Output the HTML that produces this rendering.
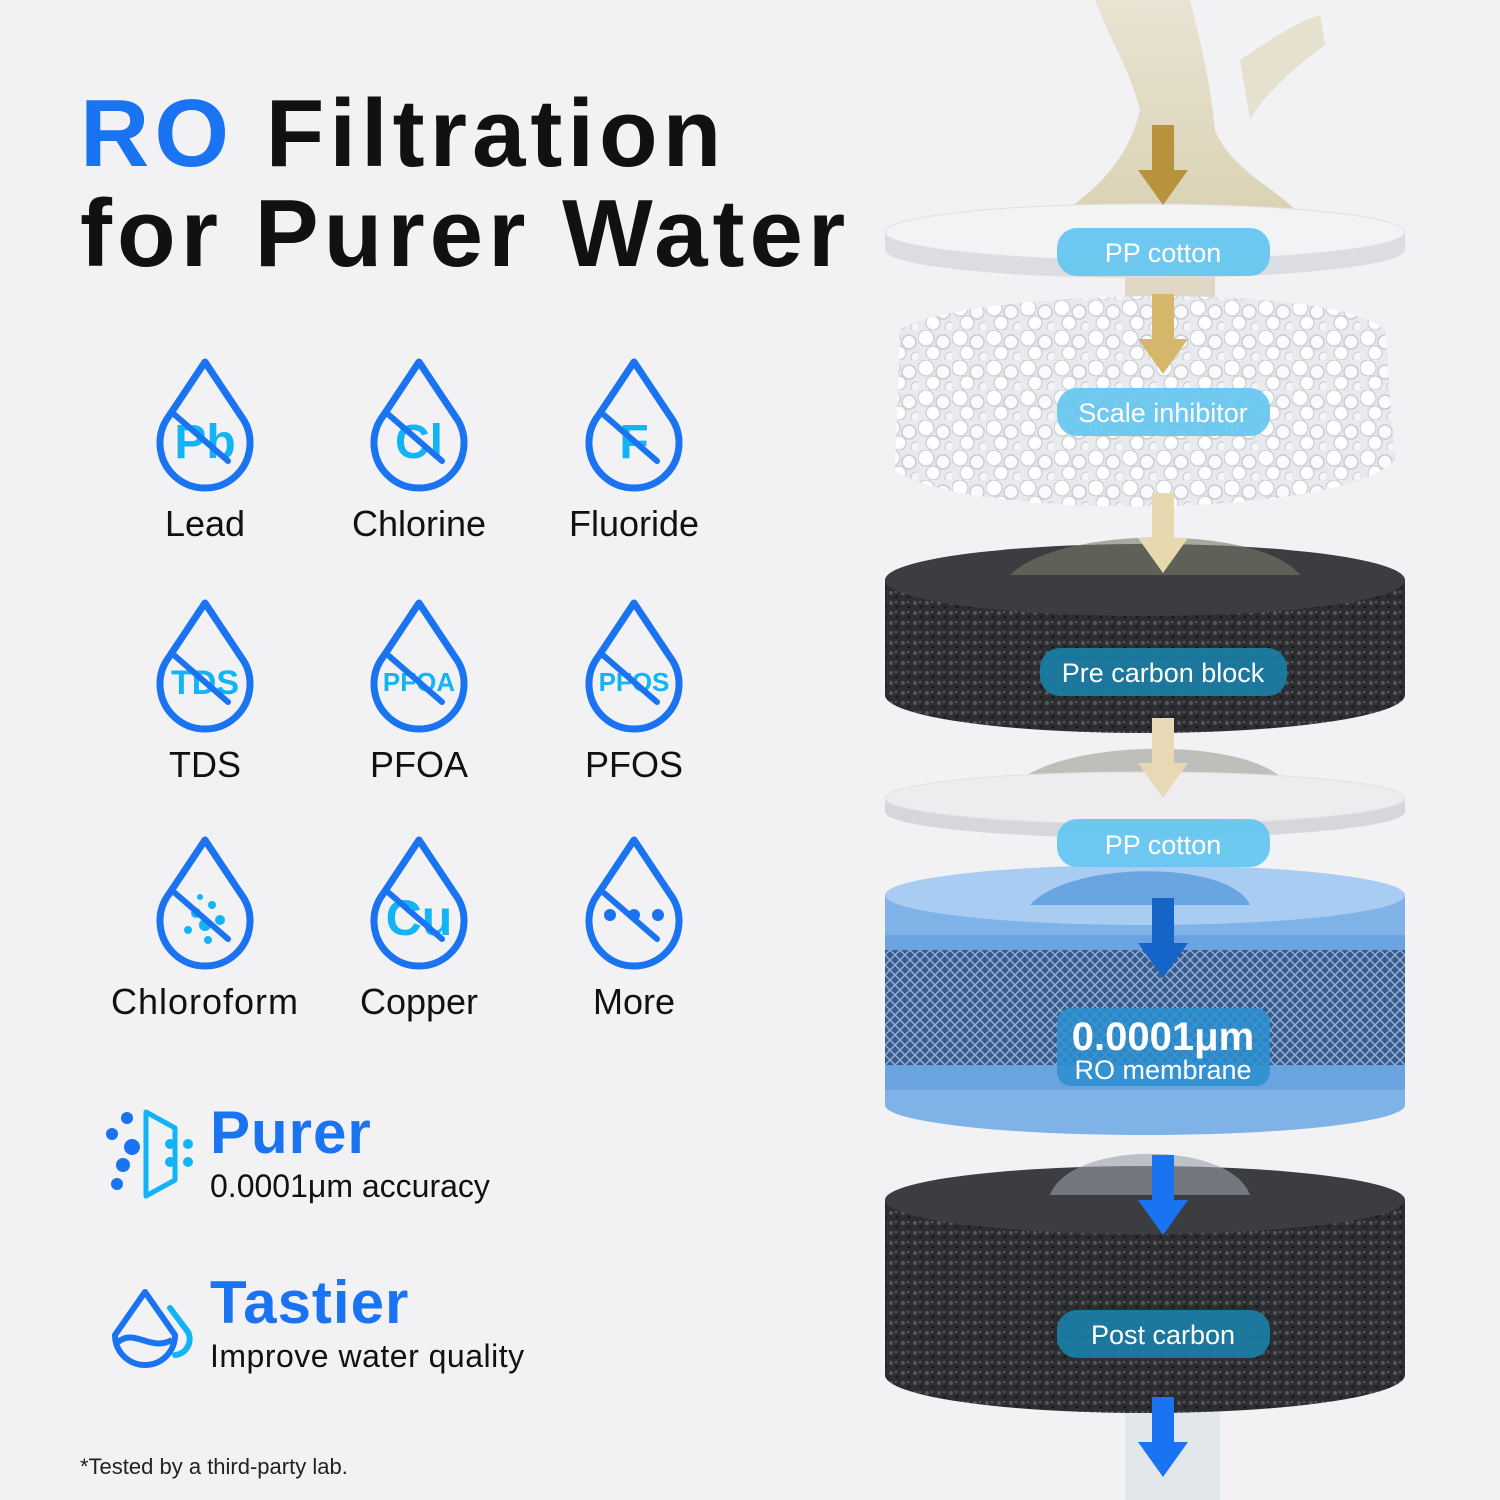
<!DOCTYPE html>
<html><head><meta charset="utf-8"><style>
html,body{margin:0;padding:0}
body{width:1500px;height:1500px;background:#f2f2f4;position:relative;overflow:hidden;font-family:"Liberation Sans",sans-serif}
.t{position:absolute;white-space:nowrap}
</style></head><body>
<svg width="1500" height="1500" style="position:absolute;left:0;top:0">
<defs>
<pattern id="beads" width="34" height="30" patternUnits="userSpaceOnUse">
<rect width="34" height="30" fill="#e9eaee"/>
<circle cx="8" cy="8" r="8" fill="#fff" stroke="#cfd2d8" stroke-width="1.5"/>
<circle cx="25" cy="12" r="7" fill="#fafafa" stroke="#c8ccd2" stroke-width="1.5"/>
<circle cx="15" cy="23" r="7" fill="#fff" stroke="#d0d3d8" stroke-width="1.5"/>
<circle cx="32" cy="27" r="5" fill="#f5f5f7" stroke="#c8ccd2" stroke-width="1"/>
</pattern>
<pattern id="carbon" width="12" height="10" patternUnits="userSpaceOnUse">
<rect width="12" height="10" fill="#2d2e31"/>
<circle cx="3" cy="3" r="2" fill="#55575b"/>
<circle cx="9" cy="7" r="1.6" fill="#1b1c1e"/>
<circle cx="8" cy="2" r="1" fill="#6a6c70"/>
</pattern>
<pattern id="mesh" width="10" height="10" patternUnits="userSpaceOnUse">
<rect width="10" height="10" fill="#3a5a8a"/>
<path d="M0 0L10 10M10 0L0 10" stroke="#8fb0d8" stroke-width="1.5"/>
</pattern>
<linearGradient id="splash" x1="0" y1="0" x2="0" y2="1"><stop offset="0" stop-color="#e0d8b8"/><stop offset="1" stop-color="#c8b880"/></linearGradient>
<g id="drop"><path d="M0,-78 L36,-24 A45,45 0 1 1 -36,-24 Z" fill="none" stroke="#1a73f0" stroke-width="7" stroke-linejoin="round"/></g>
</defs>

<!-- water stream -->
<path d="M1095,0 L1190,0 C1200,40 1210,80 1215,130 C1230,170 1280,190 1300,215 L1060,215 C1110,180 1130,150 1140,110 C1130,70 1110,40 1095,0 Z" fill="url(#splash)" opacity="0.55"/>
<path d="M1240,60 C1270,40 1300,20 1320,15 L1325,45 C1290,70 1260,100 1250,120 Z" fill="#d8cca0" opacity="0.45"/>
<rect x="1125" y="270" width="90" height="60" fill="#c9b98a" opacity="0.45"/>
<path d="M1010,790 C1050,735 1270,735 1290,790 Z" fill="#8a8c80" opacity="0.5"/>
<rect x="1125" y="1400" width="95" height="100" fill="#dde3ea" opacity="0.8"/>

<!-- PP cotton 1 -->
<path d="M885,232 L885,250 A260,28 0 0 0 1405,250 L1405,232 Z" fill="#dcdde2"/>
<ellipse cx="1145" cy="232" rx="260" ry="28" fill="#f3f3f6" stroke="#e0e0e4"/>
<!-- beads -->
<path d="M900,330 C960,290 1330,280 1385,330 L1395,460 C1340,520 960,520 895,470 Z" fill="url(#beads)"/>
<!-- pre carbon -->
<path d="M885,580 L885,695 A260,38 0 0 0 1405,695 L1405,580 Z" fill="url(#carbon)"/>
<ellipse cx="1145" cy="580" rx="260" ry="36" fill="#3c3d40"/>
<path d="M1010,575 C1060,525 1260,525 1300,575 Z" fill="#777868" opacity="0.6"/>
<!-- PP cotton 2 -->
<path d="M885,798 L885,812 A260,26 0 0 0 1405,812 L1405,798 Z" fill="#d6d7dc"/>
<ellipse cx="1145" cy="798" rx="260" ry="26" fill="#ededf0" stroke="#e0e0e4"/>
<!-- RO membrane -->
<path d="M885,895 L885,1105 A260,30 0 0 0 1405,1105 L1405,895 Z" fill="#7fb2e6"/>
<rect x="885" y="950" width="520" height="115" fill="url(#mesh)"/>
<rect x="885" y="935" width="520" height="15" fill="#6aa3e0"/>
<rect x="885" y="1065" width="520" height="25" fill="#6aa3e0"/>
<ellipse cx="1145" cy="895" rx="260" ry="30" fill="#a9cdf2"/>
<path d="M1030,905 C1070,860 1230,860 1250,905 Z" fill="#3f8ad6" opacity="0.6"/>
<!-- post carbon -->
<path d="M885,1200 L885,1375 A260,38 0 0 0 1405,1375 L1405,1200 Z" fill="url(#carbon)"/>
<ellipse cx="1145" cy="1200" rx="260" ry="34" fill="#3c3d40"/>
<path d="M1050,1195 C1070,1140 1230,1140 1250,1195 Z" fill="#9aa0a8" opacity="0.6"/>

<!-- arrows -->
<g>
<path d="M1152,125 h22 v45 h14 l-25,35 l-25,-35 h14 z" fill="#b8923c"/>
<path d="M1152,294 h22 v45 h14 l-25,35 l-25,-35 h14 z" fill="#d6b66a"/>
<path d="M1152,493 h22 v45 h14 l-25,35 l-25,-35 h14 z" fill="#e8d8b0"/>
<path d="M1152,718 h22 v45 h14 l-25,35 l-25,-35 h14 z" fill="#e8d8b6"/>
<path d="M1152,898 h22 v45 h14 l-25,35 l-25,-35 h14 z" fill="#1565c8"/>
<path d="M1152,1155 h22 v45 h14 l-25,35 l-25,-35 h14 z" fill="#1a73f0"/>
<path d="M1152,1397 h22 v45 h14 l-25,35 l-25,-35 h14 z" fill="#1a73f0"/>
</g>

<!-- pills -->
<rect x="1057" y="228" width="213" height="48" rx="20" fill="#62c5f0" opacity="0.92"/>
<rect x="1057" y="388" width="213" height="48" rx="20" fill="#62c5f0" opacity="0.9"/>
<rect x="1040" y="648" width="247" height="48" rx="20" fill="#1a7fa8" opacity="0.9"/>
<rect x="1057" y="819" width="213" height="48" rx="20" fill="#62c5f0" opacity="0.92"/>
<rect x="1057" y="1008" width="213" height="78" rx="14" fill="#2a8fd0" opacity="0.85"/>
<rect x="1057" y="1310" width="213" height="48" rx="20" fill="#1a7fa8" opacity="0.9"/>
<g font-family="Liberation Sans, sans-serif" fill="#fff" text-anchor="middle" font-size="27">
<text x="1163" y="262">PP cotton</text>
<text x="1163" y="422">Scale inhibitor</text>
<text x="1163" y="682">Pre carbon block</text>
<text x="1163" y="854">PP cotton</text>
<text x="1163" y="1050" font-size="40" font-weight="bold">0.0001μm</text>
<text x="1163" y="1079">RO membrane</text>
<text x="1163" y="1344">Post carbon</text>
</g>

<!-- drop icons -->
<g font-family="Liberation Sans, sans-serif" font-weight="bold" fill="#12b4f5" text-anchor="middle">
<use href="#drop" x="205" y="440"/><text x="205" y="458" font-size="48">Pb</text>
<use href="#drop" x="419" y="440"/><text x="419" y="458" font-size="48">Cl</text>
<use href="#drop" x="634" y="440"/><text x="634" y="458" font-size="48">F</text>
<use href="#drop" x="205" y="681"/><text x="205" y="694" font-size="34">TDS</text>
<use href="#drop" x="419" y="681"/><text x="419" y="691" font-size="26">PFOA</text>
<use href="#drop" x="634" y="681"/><text x="634" y="691" font-size="26">PFOS</text>
<use href="#drop" x="205" y="918"/>
<circle cx="196" cy="913" r="5"/><circle cx="212" cy="905" r="4"/><circle cx="205" cy="925" r="6"/><circle cx="188" cy="930" r="4"/><circle cx="220" cy="920" r="5"/><circle cx="200" cy="897" r="3"/><circle cx="208" cy="940" r="4"/>
<use href="#drop" x="419" y="918"/><text x="419" y="935" font-size="50">Cu</text>
<use href="#drop" x="634" y="918"/>
<circle cx="610" cy="915" r="6" fill="#1a73f0"/><circle cx="634" cy="915" r="6" fill="#1a73f0"/><circle cx="658" cy="915" r="6" fill="#1a73f0"/>
</g>
<g stroke="#1a73f0" stroke-width="6" stroke-linecap="round">
<line x1="175" y1="415" x2="228" y2="461"/><line x1="389" y1="415" x2="442" y2="461"/><line x1="604" y1="415" x2="657" y2="461"/>
<line x1="175" y1="656" x2="228" y2="702"/><line x1="389" y1="656" x2="442" y2="702"/><line x1="604" y1="656" x2="657" y2="702"/>
<line x1="175" y1="893" x2="228" y2="939"/><line x1="389" y1="893" x2="442" y2="939"/><line x1="604" y1="893" x2="657" y2="939"/>
</g>

<!-- Purer icon -->
<g fill="#1a73f0">
<circle cx="127" cy="1118" r="6"/><circle cx="112" cy="1134" r="6"/><circle cx="132" cy="1147" r="8"/><circle cx="123" cy="1165" r="7"/><circle cx="117" cy="1184" r="6"/>
</g>
<path d="M146,1112 L175,1128 L175,1180 L146,1196 Z" fill="none" stroke="#12b4f5" stroke-width="5" stroke-linejoin="round"/>
<g fill="#12b4f5"><circle cx="170" cy="1144" r="5"/><circle cx="188" cy="1144" r="5"/><circle cx="170" cy="1162" r="5"/><circle cx="188" cy="1162" r="5"/></g>
<!-- Tastier icon -->
<path d="M145,1292 L115,1335 A30,30 0 1 0 175,1335 Z" fill="none" stroke="#1a73f0" stroke-width="6" stroke-linejoin="round"/>
<path d="M118,1342 C135,1328 150,1352 172,1340" fill="none" stroke="#1a73f0" stroke-width="6"/>
<path d="M170,1308 L188,1332 A16,16 0 0 1 175,1355" fill="none" stroke="#12b4f5" stroke-width="6" stroke-linecap="round"/>
</svg>

<div class="t" style="left:80px;top:84px;font-size:96px;font-weight:bold;color:#111;letter-spacing:5px;line-height:100px"><span style="color:#1a73f0">RO</span> Filtration<br>for Purer Water</div>

<div class="t" style="left:5px;width:400px;top:503px;text-align:center;font-size:36px;color:#111">Lead</div>
<div class="t" style="left:219px;width:400px;top:503px;text-align:center;font-size:36px;color:#111">Chlorine</div>
<div class="t" style="left:434px;width:400px;top:503px;text-align:center;font-size:36px;color:#111">Fluoride</div>
<div class="t" style="left:5px;width:400px;top:744px;text-align:center;font-size:36px;color:#111">TDS</div>
<div class="t" style="left:219px;width:400px;top:744px;text-align:center;font-size:36px;color:#111">PFOA</div>
<div class="t" style="left:434px;width:400px;top:744px;text-align:center;font-size:36px;color:#111">PFOS</div>
<div class="t" style="left:5px;width:400px;top:981px;text-align:center;font-size:36px;color:#111;letter-spacing:1px">Chloroform</div>
<div class="t" style="left:219px;width:400px;top:981px;text-align:center;font-size:36px;color:#111">Copper</div>
<div class="t" style="left:434px;width:400px;top:981px;text-align:center;font-size:36px;color:#111">More</div>

<div class="t" style="left:210px;top:1098px;font-size:60px;font-weight:bold;color:#1a73f0;letter-spacing:1px">Purer</div>
<div class="t" style="left:210px;top:1168px;font-size:32px;color:#111">0.0001μm accuracy</div>
<div class="t" style="left:210px;top:1268px;font-size:60px;font-weight:bold;color:#1a73f0;letter-spacing:1px">Tastier</div>
<div class="t" style="left:210px;top:1338px;font-size:32px;color:#111;letter-spacing:0.5px">Improve water quality</div>
<div class="t" style="left:80px;top:1454px;font-size:22px;color:#222">*Tested by a third-party lab.</div>
</body></html>
